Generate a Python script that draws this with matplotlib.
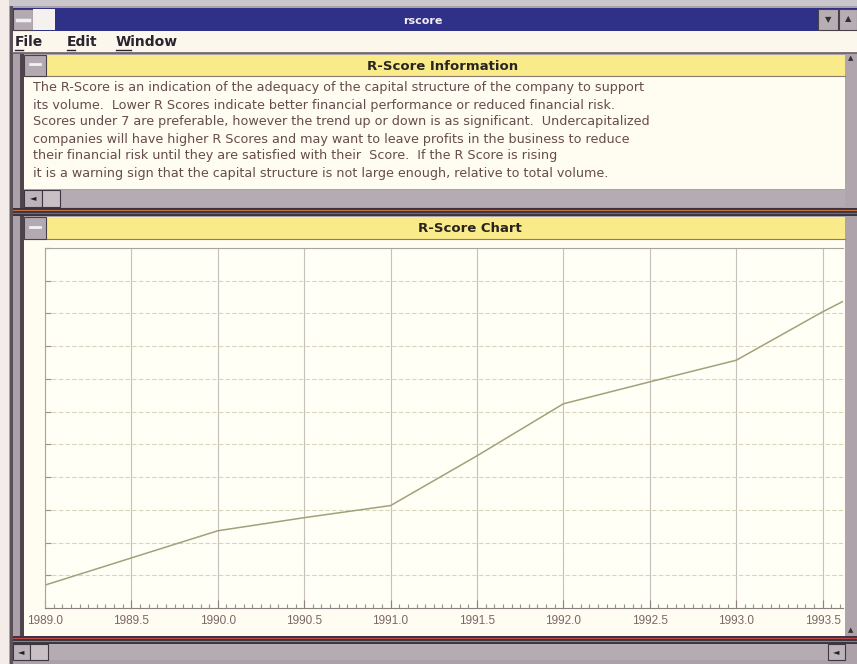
import matplotlib
matplotlib.use("Agg")
import matplotlib.pyplot as plt
from matplotlib.patches import Rectangle
from matplotlib.ticker import MultipleLocator

W, H = 857, 664

# R-Score values (one gridline = 1 unit)
years = [1989.0, 1989.5, 1990.0, 1990.5, 1991.0, 1991.5, 1992.0, 1992.5, 1993.0, 1993.5, 1994.0]
rscore = [0.70, 1.53, 2.36, 2.76, 3.13, 4.65, 6.24, 6.91, 7.57, 9.05, 10.4]
x_ticks = [1989.0, 1989.5, 1990.0, 1990.5, 1991.0, 1991.5, 1992.0, 1992.5, 1993.0, 1993.5]
x_labels = ["1989.0", "1989.5", "1990.0", "1990.5", "1991.0", "1991.5", "1992.0", "1992.5", "1993.0", "1993.5"]

menu_items = ["File", "Edit", "Window"]
info_lines = [
    "The R-Score is an indication of the adequacy of the capital structure of the company to support",
    "its volume.  Lower R Scores indicate better financial performance or reduced financial risk.",
    "Scores under 7 are preferable, however the trend up or down is as significant.  Undercapitalized",
    "companies will have higher R Scores and may want to leave profits in the business to reduce",
    "their financial risk until they are satisfied with their  Score.  If the R Score is rising",
    "it is a warning sign that the capital structure is not large enough, relative to total volume.",
]

frame_gray = "#aca1a8"
yellow = "#f9ea8a"
cream = "#fffcf1"

fig = plt.figure(figsize=(W / 100, H / 100), dpi=100)
bg = fig.add_axes([0, 0, 1, 1])
bg.set_xlim(0, W)
bg.set_ylim(H, 0)
bg.axis("off")


def box(x0, y0, x1, y1, fc, ec="none", lw=0.0, z=1):
    bg.add_patch(Rectangle((x0, y0), x1 - x0, y1 - y0, facecolor=fc,
                           edgecolor=ec, linewidth=lw, zorder=z))


# window frame
box(0, 0, W, H, frame_gray)
box(0, 0, 9, H, "#f3ece9")
box(9, 0, W, 6, "#c9c6cc")
box(10, 6, 13, H, "#5a5058")

# title bar
box(13, 8, W, 31, "#2f3087")
box(13, 9, 33, 30, "#b4abb2", ec="#4a4048", lw=0.8, z=2)
bg.plot([17, 29], [19.5, 19.5], color="#f0f0f0", lw=2.5, zorder=3)
box(33, 9, 55, 30, "#f5f1ef", z=2)
box(818, 9, 838, 30, "#b7aeb4", ec="#4a4048", lw=0.8, z=2)
box(839, 9, 857, 30, "#b7aeb4", ec="#4a4048", lw=0.8, z=2)
bg.text(828, 20, "▼", fontsize=6, color="#303030", ha="center", va="center", zorder=3)
bg.text(848, 19, "▲", fontsize=6, color="#303030", ha="center", va="center", zorder=3)
bg.text(423, 21, "rscore", color="#f4eef4", fontsize=8, fontweight="bold",
        ha="center", va="center", zorder=3)

# menu bar
box(13, 31, W, 53, "#fbf7ec")
bg.plot([13, W], [53, 53], color="#6a5e64", lw=1.2, zorder=2)
menu_x = [15, 67, 116]
for label, mx in zip(menu_items, menu_x):
    bg.text(mx, 42, label, fontsize=10, fontweight="bold", color="#2a2430",
            ha="left", va="center", zorder=3)
for ux0, ux1 in [(15, 23), (67, 75), (116, 131)]:
    bg.plot([ux0, ux1], [50, 50], color="#2a2430", lw=1, zorder=3)

# information panel
box(20, 54, 24, 210, "#4e444c")
box(24, 55, 845, 76, yellow)
bg.plot([24, 845], [76, 76], color="#8a7a70", lw=0.8, zorder=2)
box(24, 55, 46, 76, "#b3a9b0", ec="#4a4048", lw=0.8, z=2)
bg.plot([30, 40], [64, 64], color="#f2f2f2", lw=2, zorder=3)
bg.text(367, 66, "R-Score Information", fontsize=9.5, fontweight="bold",
        color="#2a2420", ha="left", va="center", zorder=3)
box(24, 77, 845, 189, cream)
for i, line in enumerate(info_lines):
    bg.text(33, 88 + i * 17, line, fontsize=9.2, color="#664c4c",
            family="DejaVu Sans", ha="left", va="center", zorder=3)
box(24, 190, 845, 207, "#b5abb2")
box(24, 190, 42, 207, "#bdb3ba", ec="#3e3640", lw=0.8, z=2)
bg.text(33, 198, "◄", fontsize=6, color="#202020", ha="center", va="center", zorder=3)
box(42, 190, 60, 207, "#c9c0c6", ec="#3e3640", lw=0.8, z=2)
box(845, 54, W, 210, "#b0a5ac")
bg.text(851, 58, "▲", fontsize=5, color="#303030", ha="center", va="center", zorder=3)

# separator between panels
box(13, 208, W, 216, "#3c3440")
bg.plot([13, W], [210, 210], color="#c8703c", lw=0.8, zorder=2)
bg.plot([13, W], [213, 213], color="#4a78a8", lw=0.8, zorder=2)

# chart panel
box(20, 216, 24, 636, "#4e444c")
box(24, 217, 845, 239, yellow)
bg.plot([24, 845], [239, 239], color="#8a7a70", lw=0.8, zorder=2)
box(24, 217, 46, 239, "#b3a9b0", ec="#4a4048", lw=0.8, z=2)
bg.plot([30, 40], [227, 227], color="#f2f2f2", lw=2, zorder=3)
bg.text(418, 228, "R-Score Chart", fontsize=9.5, fontweight="bold",
        color="#2a2420", ha="left", va="center", zorder=3)
box(24, 240, 845, 636, cream)
box(845, 216, W, 640, "#aea3aa")
bg.text(851, 630, "▲", fontsize=5, color="#303030", ha="center", va="center", zorder=3)

# bottom border and scrollbar
box(13, 636, W, 644, "#3c3440")
bg.plot([13, W], [638, 638], color="#c04848", lw=0.8, zorder=2)
bg.plot([13, W], [641, 641], color="#58a070", lw=0.8, zorder=2)
box(13, 644, 845, 660, "#b5abb2")
box(13, 644, 30, 660, "#bdb3ba", ec="#3e3640", lw=0.8, z=2)
bg.text(21, 652, "◄", fontsize=6, color="#202020", ha="center", va="center", zorder=3)
box(30, 644, 48, 660, "#c9c0c6", ec="#3e3640", lw=0.8, z=2)
box(828, 644, 845, 660, "#bdb3ba", ec="#3e3640", lw=0.8, z=2)
bg.text(836, 652, "◄", fontsize=6, color="#202020", ha="center", va="center", zorder=3)

# the chart itself
left, top, right, bottom = 45, 248, 843, 608
ax = fig.add_axes([left / W, (H - bottom) / H, (right - left) / W, (bottom - top) / H])
ax.set_facecolor("#fffff6")
ax.plot(years, rscore, color="#a0a27a", lw=1.1, zorder=3)
ax.set_xlim(1989.0, 1989.0 + (right - left) / 172.8)
ax.set_ylim(0, 11)
ax.set_xticks(x_ticks)
ax.set_xticklabels(x_labels, family="Liberation Sans")
ax.xaxis.set_minor_locator(MultipleLocator(0.05))
ax.set_yticks(range(0, 12))
ax.set_yticklabels([])
ax.grid(which="major", axis="x", color="#c6c0bc", lw=0.8)
ax.grid(which="major", axis="y", color="#d8d5bc", lw=0.8, ls=(0, (4, 2)))
ax.tick_params(axis="x", which="major", direction="in", length=6, width=0.8,
               color="#8a8080", labelsize=8.5, labelcolor="#7a6868", pad=5)
ax.tick_params(axis="x", which="minor", direction="in", length=3, width=0.8, color="#9a9090")
ax.tick_params(axis="y", direction="in", length=4, width=0.8, color="#9a9090")
for name, spine in ax.spines.items():
    spine.set_color("#aaa2a2")
    spine.set_linewidth(0.8)
ax.spines["right"].set_visible(False)
ax.spines["bottom"].set_color("#8a8080")

fig.savefig("out.png", dpi=100)
